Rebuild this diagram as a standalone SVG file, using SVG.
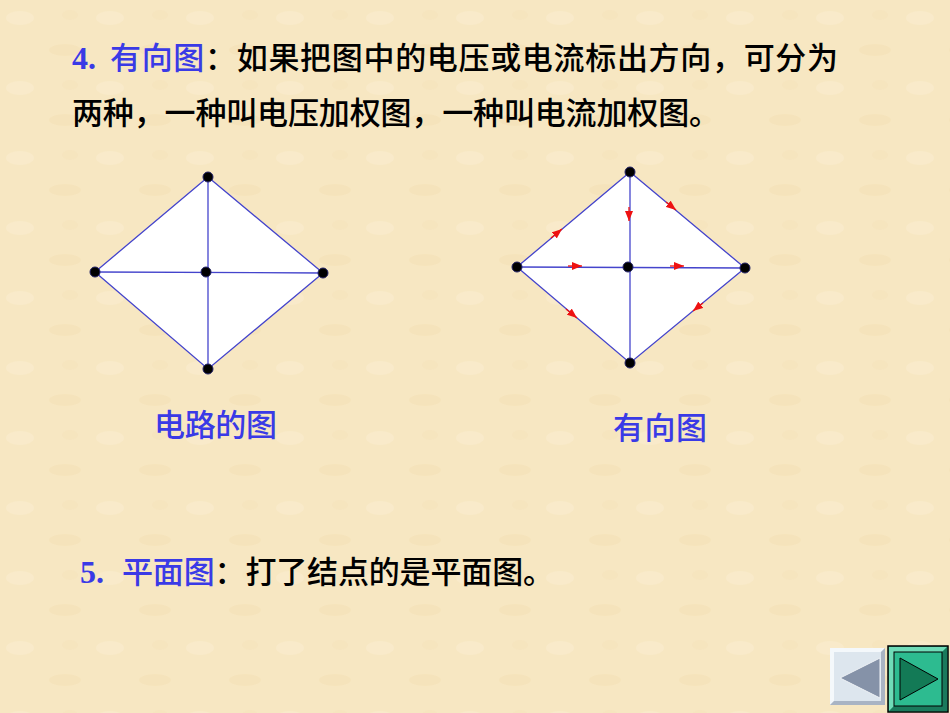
<svg xmlns="http://www.w3.org/2000/svg" width="950" height="713" viewBox="0 0 950 713">
<defs>
<style>
.t{font-family:"Liberation Serif","Noto Sans CJK SC",serif;font-weight:500;font-size:31px;fill:#000}
.n{font-family:"Liberation Serif",serif;font-weight:bold;font-size:32px;fill:#3a3ae6}
.b{fill:#3a3ae6}
.lbl{font-family:"Noto Sans CJK SC",sans-serif;font-weight:500;font-size:31px;fill:#3a3ae6}
.edge{stroke:#4444cc;stroke-width:1.3;fill:none}
.face{fill:#fff;stroke:none}
.node{fill:#000;stroke:#222266;stroke-width:1}
.arr{stroke:#ee1111;stroke-width:1.3;fill:none;marker-end:url(#ah)}
</style>
<marker id="ah" markerUnits="userSpaceOnUse" markerWidth="10" markerHeight="8" refX="10" refY="4" orient="auto">
<path d="M0,0 L10,4 L0,8 z" fill="#ee1111"/>
</marker>
<pattern id="tex" width="90" height="70" patternUnits="userSpaceOnUse">
<rect width="90" height="70" fill="#f7e7c2"/>
<ellipse cx="20" cy="18" rx="14" ry="7" fill="#faedcf" opacity="0.6"/>
<ellipse cx="65" cy="50" rx="16" ry="6" fill="#f3dfb3" opacity="0.5"/>
<ellipse cx="70" cy="15" rx="8" ry="5" fill="#f4e2b8" opacity="0.4"/>
</pattern>
</defs>
<rect width="950" height="713" fill="url(#tex)"/>

<g id="text">
<text class="n" x="72" y="69">4.</text>
<text class="t" x="110" y="69" textLength="728" lengthAdjust="spacing"><tspan class="b">有向图</tspan>：如果把图中的电压或电流标出方向，可分为</text>
<text class="t" x="72" y="124" textLength="648" lengthAdjust="spacing">两种，一种叫电压加权图，一种叫电流加权图。</text>
<text class="n" x="80" y="583">5.</text>
<text class="t" x="122" y="583" textLength="432" lengthAdjust="spacing"><tspan class="b">平面图</tspan>：打了结点的是平面图。</text>
</g>

<g id="graph1">
<polygon class="face" points="208,177 323,273 208,369 95,272"/>
<g id="g1-edges">
<polyline class="edge" points="208,177 323,273 208,369 95,272 208,177"/>
<line class="edge" x1="208" y1="177" x2="208" y2="369"/>
<line class="edge" x1="95" y1="272" x2="323" y2="273"/>
</g>
<g id="g1-n1"><circle class="node" cx="208" cy="177" r="5"/></g>
<g id="g1-n2"><circle class="node" cx="95" cy="272" r="5"/></g>
<g id="g1-n3"><circle class="node" cx="206" cy="272" r="5"/></g>
<g id="g1-n4"><circle class="node" cx="323" cy="273" r="5"/></g>
<g id="g1-n5"><circle class="node" cx="208" cy="369" r="5"/></g>
<text class="lbl" x="154" y="436" textLength="123" lengthAdjust="spacing">电路的图</text>
</g>

<g id="graph2">
<polygon class="face" points="630,172 745,268 630,363 517,267"/>
<g id="g2-edges">
<polyline class="edge" points="630,172 745,268 630,363 517,267 630,172"/>
<line class="edge" x1="630" y1="172" x2="630" y2="363"/>
<line class="edge" x1="517" y1="267" x2="745" y2="268"/>
</g>
<g id="g2-arrows">
<line class="arr" x1="551" y1="238" x2="562" y2="229"/>
<line class="arr" x1="666" y1="202" x2="676" y2="210"/>
<line class="arr" x1="629" y1="207" x2="629" y2="221"/>
<line class="arr" x1="568" y1="266" x2="582" y2="266"/>
<line class="arr" x1="670" y1="266" x2="684" y2="266"/>
<line class="arr" x1="566" y1="309" x2="577" y2="318"/>
<line class="arr" x1="703" y1="303" x2="693" y2="311"/>
</g>
<g id="g2-n1"><circle class="node" cx="630" cy="172" r="5"/></g>
<g id="g2-n2"><circle class="node" cx="517" cy="267" r="5"/></g>
<g id="g2-n3"><circle class="node" cx="628" cy="267" r="5"/></g>
<g id="g2-n4"><circle class="node" cx="745" cy="268" r="5"/></g>
<g id="g2-n5"><circle class="node" cx="630" cy="363" r="5"/></g>
<text class="lbl" x="613" y="439" textLength="94" lengthAdjust="spacing">有向图</text>
</g>

<g id="nav-prev">
<rect x="830" y="648" width="55" height="57" fill="#dde6ee"/>
<polygon points="830,648 885,648 881,652 834,652 834,701 830,705" fill="#f4f8fb"/>
<polygon points="885,648 885,705 830,705 834,701 881,701 881,652" fill="#a9b4c4"/>
<polygon points="840,678 880,658 880,698" fill="#8592a8" stroke="#eef2f6" stroke-width="1"/>
</g>
<g id="nav-next">
<rect x="888" y="646" width="60" height="66" fill="#2dbb90" stroke="#000" stroke-width="1.5"/>
<polygon points="889,647 947,647 942,652 894,652 894,706 889,711" fill="#6fdcb8"/>
<polygon points="947,647 947,711 889,711 894,706 942,706 942,652" fill="#1a7a5c"/>
<rect x="894" y="652" width="48" height="54" fill="#2dbb90" stroke="#000" stroke-width="1"/>
<polygon points="938,679 900,658 900,700" fill="#137a56" stroke="#000" stroke-width="1"/>
</g>
</svg>
